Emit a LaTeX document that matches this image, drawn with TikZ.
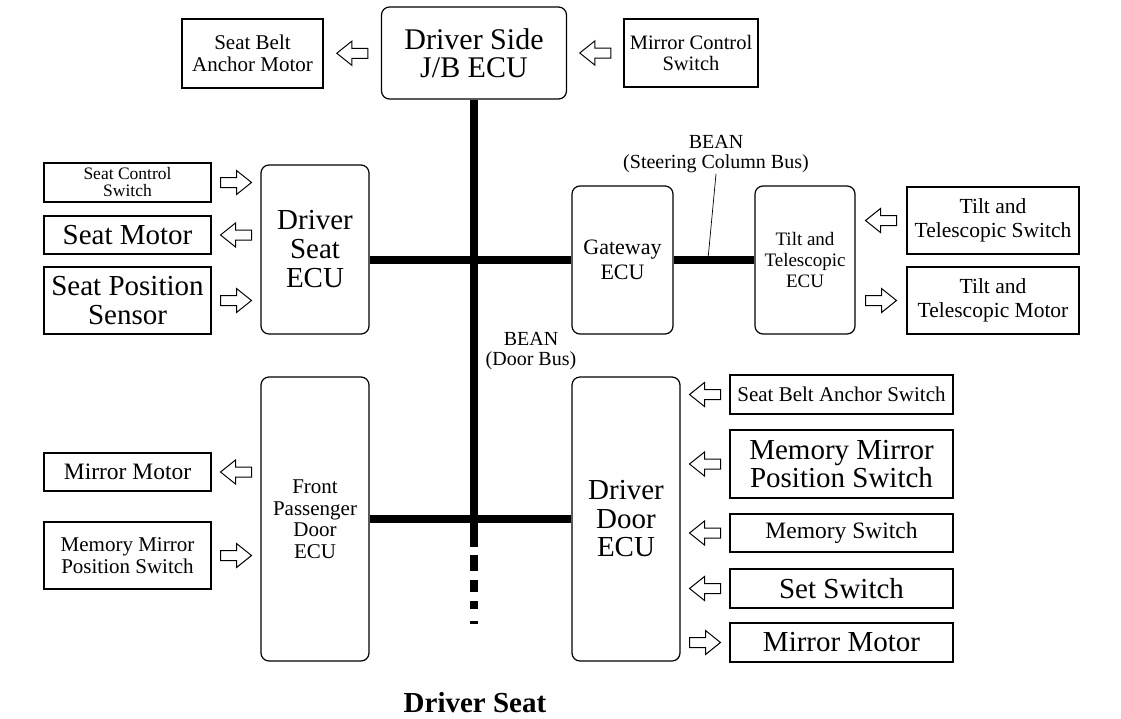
\documentclass[tikz,border=0pt]{standalone}
\usepackage{fontspec}
\setmainfont{Liberation Serif}
\usepackage{tikz}
\usetikzlibrary{calc,positioning}
\newcommand{\setfs}[2]{\fontsize{#1}{#2}\selectfont}
\tikzstyle{bus} = [line width=8.5pt, black]
\tikzstyle{unit} = [rectangle, draw, line width=1.2pt, inner sep=0pt, align=center]
\tikzstyle{ecu} = [unit, rounded corners=8pt]

\begin{document}
\begin{tikzpicture}[x=1pt, y=-1pt,
    hollow/.style={draw, line width=1pt, fill=white, line join=miter},
    larr/.pic={\draw[hollow] (-15.5,0) -- (-0.5,-12) -- (-0.5,-5) -- (15.5,-5) -- (15.5,5) -- (-0.5,5) -- (-0.5,12) -- cycle;},
    rarr/.pic={\draw[hollow] (15.5,0) -- (0.5,-12) -- (0.5,-5) -- (-15.5,-5) -- (-15.5,5) -- (0.5,5) -- (0.5,12) -- cycle;},
    big/.style={font=\setfs{29}{29}},
    mid/.style={font=\setfs{21}{21.5}},
    buslabel/.style={font=\setfs{20}{20}, align=center, inner sep=1pt}]

\useasboundingbox (0,0) rectangle (1121,718);

% Junction block
\node[ecu, minimum width=185, minimum height=92, font=\setfs{30}{28.5}] (jb) at (474,53) {Driver Side\\J/B ECU};
\node[unit, minimum width=141, minimum height=69, mid] (sbam) at (252.5,53.5) {Seat Belt\\Anchor Motor};
\node[unit, minimum width=134, minimum height=68, font=\setfs{20.5}{21}] (mcs) at (691,53) {Mirror Control\\Switch};

% ECUs
\node[ecu, minimum width=108, minimum height=169, big] (dseat) at (315,249.5) {Driver\\Seat\\ECU};
\node[ecu, minimum width=108, minimum height=284, mid] (fpd) at (315,519) {Front\\Passenger\\Door\\ECU};
\node[ecu, minimum width=101, minimum height=148, font=\setfs{22}{25}] (gw) at (622.5,260) {Gateway\\ECU};
\node[ecu, minimum width=100, minimum height=148, font=\setfs{19}{21}] (tt) at (805,260) {Tilt and\\Telescopic\\ECU};
\node[ecu, minimum width=108, minimum height=284, font=\setfs{29}{28.5}] (ddoor) at (626,519) {Driver\\Door\\ECU};

% Driver seat side
\node[unit, minimum width=167, minimum height=39, font=\setfs{17.5}{17}] (scs) at (127.5,182.5) {Seat Control\\Switch};
\node[unit, minimum width=167, minimum height=38, big] (sm) at (127.5,235) {Seat Motor};
\node[unit, minimum width=167, minimum height=67, big] (sps) at (127.5,300.5) {Seat Position\\Sensor};

% Front passenger side
\node[unit, minimum width=167, minimum height=38, font=\setfs{23.5}{23.5}] (mml) at (127.5,472) {Mirror Motor};
\node[unit, minimum width=167, minimum height=67, mid] (mmpl) at (127.5,555.5) {Memory Mirror\\Position Switch};

% Tilt and telescopic side
\node[unit, minimum width=172, minimum height=67, font=\setfs{21.5}{24}] (tts) at (993,220.5) {Tilt and\\Telescopic Switch};
\node[unit, minimum width=172, minimum height=67, font=\setfs{21.5}{24}] (ttm) at (993,300.5) {Tilt and\\Telescopic Motor};

% Driver door side
\node[unit, minimum width=223, minimum height=39, mid] (sbas) at (841.5,394.5) {Seat Belt Anchor Switch};
\node[unit, minimum width=223, minimum height=68, font=\setfs{29}{28}] (mmpr) at (841.5,464) {Memory Mirror\\Position Switch};
\node[unit, minimum width=223, minimum height=38, font=\setfs{23.5}{23.5}] (msw) at (841.5,533) {Memory Switch};
\node[unit, minimum width=223, minimum height=39, big] (ssw) at (841.5,588.5) {Set Switch};
\node[unit, minimum width=223, minimum height=39, big] (mmr) at (841.5,642.5) {Mirror Motor};

% Buses
\coordinate (busstop) at (474,547);
\coordinate (dashtop) at (474,555);
\coordinate (dashend) at (474,624);
\draw[bus] (jb.south) -- (busstop);
\draw[bus, dash pattern=on 16pt off 9pt on 12pt off 9pt on 8pt off 12pt on 3pt off 10pt] (dashtop) -- (dashend);
\draw[bus] (dseat.east |- gw.west) -- (gw.west);
\draw[bus, line width=8pt] (gw.east) -- (tt.west);
\draw[bus] (fpd.east) -- (ddoor.west);

% Bus labels
\node[buslabel] (scblabel) at (716,154) {BEAN\\(Steering Column Bus)};
\coordinate (scbtap) at (708,259);
\draw[line width=0.7pt] (scbtap) -- (scblabel.south);
\node[buslabel] (dblabel) at (531,351.5) {BEAN\\(Door Bus)};

% Signal arrows
\pic at ($(sbam.east)!0.5!(jb.west)$) {larr};
\pic at ($(jb.east)!0.5!(mcs.west)$) {larr};

\pic at ($(scs.east)!0.5!(dseat.west |- scs.east)$) {rarr};
\pic at ($(sm.east)!0.5!(dseat.west |- sm.east)$) {larr};
\pic at ($(sps.east)!0.5!(dseat.west |- sps.east)$) {rarr};

\pic at ($(mml.east)!0.5!(fpd.west |- mml.east)$) {larr};
\pic at ($(mmpl.east)!0.5!(fpd.west |- mmpl.east)$) {rarr};

\pic at ($(tt.east |- tts.west)!0.5!(tts.west)$) {larr};
\pic at ($(tt.east |- ttm.west)!0.5!(ttm.west)$) {rarr};

\pic at ($(ddoor.east |- sbas.west)!0.5!(sbas.west)$) {larr};
\pic at ($(ddoor.east |- mmpr.west)!0.5!(mmpr.west)$) {larr};
\pic at ($(ddoor.east |- msw.west)!0.5!(msw.west)$) {larr};
\pic at ($(ddoor.east |- ssw.west)!0.5!(ssw.west)$) {larr};
\pic at ($(ddoor.east |- mmr.west)!0.5!(mmr.west)$) {rarr};

% Title
\node[font=\bfseries\setfs{29}{29}, anchor=base, inner sep=0pt] (title) at (475,712) {Driver Seat};
\end{tikzpicture}
\end{document}
